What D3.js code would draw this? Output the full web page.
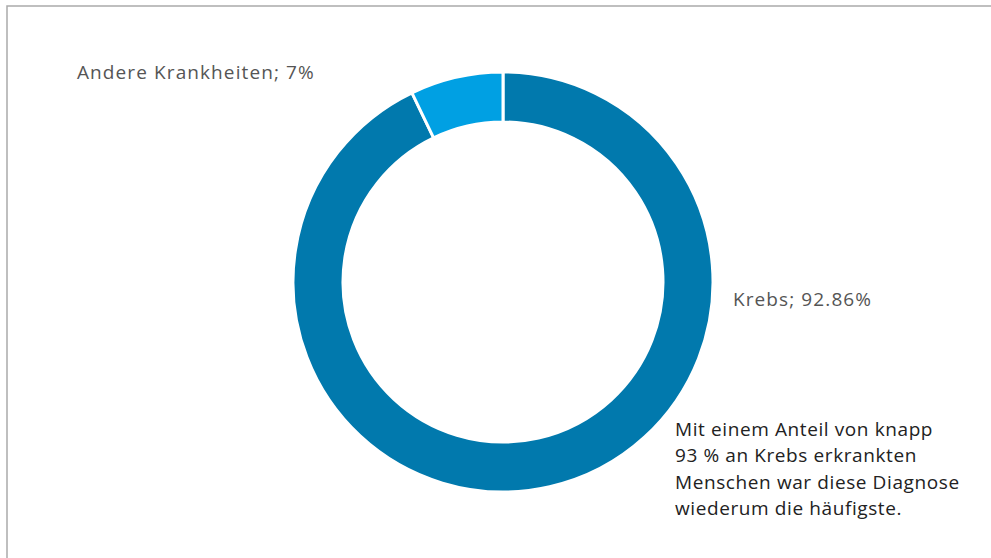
<!DOCTYPE html>
<html lang="de">
<head>
<meta charset="UTF-8">
<title>Krebs Anteil</title>
<script src="https://d3js.org/d3.v7.min.js"></script>
<style>
  body { margin: 0; background: #fff; }
  text { font-family: "Open Sans", sans-serif; letter-spacing: 1.1px; }
  text.note { letter-spacing: 0.6px; }
</style>
</head>
<body>
<svg width="991" height="558"></svg>
<script>
  var categories = ["Krebs", "Andere Krankheiten"];
  var values = [92.86, 7.14];
  var labels = ["Krebs; 92.86%", "Andere Krankheiten; 7%"];
  var colors = ["#0179ad", "#00a0e3"];
  var note = [
    "Mit einem Anteil von knapp",
    "93 % an Krebs erkrankten",
    "Menschen war diese Diagnose",
    "wiederum die häufigste."
  ];

  var svg = d3.select("svg");

  // frame
  svg.append("rect")
    .attr("x", 7).attr("y", 6)
    .attr("width", 1000).attr("height", 600)
    .style("fill", "none")
    .style("stroke", "#aaa")
    .style("stroke-width", 1.5);

  var cx = 503, cy = 282;

  var pie = d3.pie().sort(null).value(function(d) { return d; });
  var arc = d3.arc().innerRadius(160).outerRadius(210);

  var g = svg.append("g").attr("transform", "translate(" + cx + "," + cy + ")");

  g.selectAll("path.slice")
    .data(pie(values))
    .join("path")
    .classed("slice", true)
    .attr("d", arc)
    .style("fill", function(d, i) { return colors[i]; })
    .style("stroke", "#fff")
    .style("stroke-width", 3);

  // labels
  var labelPos = [[733, 306], [77, 79]];
  svg.selectAll("text.label")
    .data(labels)
    .join("text")
    .classed("label", true)
    .attr("x", function(d, i) { return labelPos[i][0]; })
    .attr("y", function(d, i) { return labelPos[i][1]; })
    .style("font-size", "19px")
    .style("fill", "#555")
    .text(function(d) { return d; });

  svg.selectAll("text.note")
    .data(note)
    .join("text")
    .classed("note", true)
    .attr("x", 675)
    .attr("y", function(d, i) { return 436 + i * 26.3; })
    .style("font-size", "19px")
    .style("fill", "#222")
    .text(function(d) { return d; });
</script>
</body>
</html>
